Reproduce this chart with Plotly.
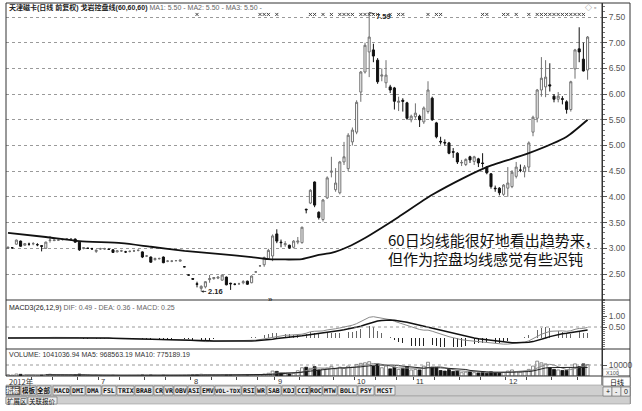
import numpy as np
import pandas as pd
import plotly.graph_objects as go

W, H = 642, 411

# ---------------- data ----------------
opens = [3.00, 3.01, 3.08, 3.14, 3.06, 3.08, 3.09, 3.07, 3.05, 3.00,
         3.15, 3.15, 3.16, 3.17, 3.18, 3.18, 3.18, 3.12, 3.00, 3.00,
         2.99, 2.94, 2.99, 2.99, 2.98, 2.97, 2.93, 2.95, 2.93, 2.94,
         2.95, 2.96, 2.93, 2.85, 2.83, 2.78, 2.80, 2.83, 2.75, 2.75,
         2.76, 2.75, 2.64, 2.48, 2.41, 2.31, 2.22, 2.25, 2.39, 2.41,
         2.42, 2.38, 2.44, 2.32, 2.30, 2.31, 2.33, 2.36, 2.33, 2.54,
         2.66, 2.68, 2.80, 2.85, 3.28, 3.12, 3.07, 3.06, 3.02, 3.12,
         3.11, 3.76, 3.88, 4.29, 3.70, 3.56, 3.98, 4.48, 4.14, 4.08,
         4.68, 4.55, 5.07, 5.26, 6.04, 6.43, 6.82, 6.86, 6.66, 6.35,
         6.22, 6.14, 6.12, 5.84, 5.88, 5.83, 5.50, 5.56, 5.57, 5.46,
         5.66, 5.92, 5.44, 5.08, 5.06, 5.05, 4.88, 4.85, 4.66, 4.63,
         4.78, 4.69, 4.74, 4.66, 4.58, 4.45, 4.17, 4.17, 4.05, 4.17,
         4.20, 4.40, 4.52, 4.49, 4.58, 5.26, 5.53, 6.08, 6.14, 6.18,
         5.96, 5.90, 5.91, 5.85, 5.70, 6.49, 6.88, 6.68, 6.47]
highs = [3.03, 3.02, 3.17, 3.15, 3.10, 3.11, 3.12, 3.10, 3.06, 3.13,
         3.24, 3.17, 3.17, 3.19, 3.20, 3.20, 3.19, 3.13, 3.02, 3.01,
         3.01, 2.98, 3.01, 3.01, 2.99, 2.98, 2.96, 2.97, 2.95, 2.96,
         2.97, 2.98, 2.94, 2.87, 2.84, 2.82, 2.82, 2.84, 2.77, 2.77,
         2.77, 2.78, 2.65, 2.49, 2.42, 2.35, 2.28, 2.36, 2.48, 2.44,
         2.45, 2.49, 2.45, 2.33, 2.32, 2.33, 2.38, 2.37, 2.47, 2.55,
         2.67, 2.84, 2.99, 3.27, 3.37, 3.17, 3.14, 3.07, 3.16, 3.22,
         3.42, 3.77, 4.15, 4.30, 3.72, 3.96, 4.40, 4.78, 4.56, 4.70,
         5.07, 5.24, 5.35, 5.88, 6.45, 7.00, 7.59, 6.98, 6.70, 6.50,
         6.66, 6.18, 6.14, 5.95, 5.92, 5.85, 5.60, 5.82, 5.60, 5.76,
         6.25, 5.95, 5.46, 5.17, 5.12, 5.07, 4.95, 4.87, 4.72, 4.75,
         4.80, 4.80, 4.76, 4.85, 4.60, 4.46, 4.22, 4.19, 4.25, 4.58,
         4.52, 4.68, 4.63, 4.62, 5.08, 5.58, 6.10, 6.72, 6.66, 6.60,
         6.00, 6.04, 5.96, 5.88, 6.26, 6.88, 7.30, 7.00, 7.13]
lows = [2.99, 3.00, 3.07, 3.03, 3.05, 3.05, 3.06, 3.04, 2.94, 2.99,
        3.11, 3.14, 3.15, 3.15, 3.16, 3.16, 3.11, 2.95, 2.98, 2.99,
        2.97, 2.91, 2.97, 2.97, 2.97, 2.91, 2.92, 2.93, 2.91, 2.92,
        2.93, 2.94, 2.81, 2.83, 2.72, 2.76, 2.78, 2.71, 2.73, 2.73,
        2.75, 2.74, 2.63, 2.47, 2.39, 2.24, 2.16, 2.22, 2.33, 2.39,
        2.40, 2.37, 2.28, 2.19, 2.28, 2.29, 2.30, 2.29, 2.32, 2.53,
        2.64, 2.64, 2.77, 2.75, 3.10, 3.02, 3.03, 2.99, 3.00, 3.08,
        3.09, 3.68, 3.86, 3.80, 3.56, 3.52, 3.96, 4.38, 4.10, 4.05,
        4.62, 4.50, 5.00, 5.22, 5.85, 6.40, 6.33, 6.62, 6.20, 6.25,
        6.12, 6.02, 5.70, 5.67, 5.66, 5.50, 5.45, 5.52, 5.36, 5.42,
        5.62, 5.48, 5.14, 5.02, 5.00, 4.83, 4.76, 4.64, 4.60, 4.60,
        4.66, 4.62, 4.58, 4.57, 4.44, 4.16, 4.10, 4.03, 4.02, 4.00,
        4.17, 4.36, 4.48, 4.38, 4.50, 5.18, 5.45, 5.95, 5.94, 6.05,
        5.84, 5.84, 5.80, 5.62, 5.66, 6.30, 6.62, 6.44, 6.28]
closes = [3.02, 3.01, 3.16, 3.04, 3.09, 3.08, 3.09, 3.07, 3.04, 3.12,
          3.16, 3.16, 3.16, 3.17, 3.18, 3.18, 3.12, 2.97, 3.01, 3.00,
          2.99, 2.96, 2.99, 2.99, 2.98, 2.92, 2.95, 2.95, 2.93, 2.94,
          2.95, 2.96, 2.83, 2.85, 2.73, 2.80, 2.80, 2.72, 2.75, 2.75,
          2.76, 2.77, 2.64, 2.48, 2.40, 2.30, 2.26, 2.35, 2.41, 2.43,
          2.44, 2.48, 2.29, 2.31, 2.30, 2.31, 2.35, 2.30, 2.46, 2.54,
          2.66, 2.82, 2.96, 3.24, 3.14, 3.11, 3.09, 3.01, 3.14, 3.14,
          3.41, 3.75, 4.13, 3.84, 3.60, 3.94, 4.37, 4.50, 4.27, 4.68,
          4.78, 5.20, 5.30, 5.84, 6.43, 6.95, 7.11, 6.74, 6.24, 6.37,
          6.37, 6.08, 5.86, 5.86, 5.86, 5.53, 5.57, 5.63, 5.50, 5.73,
          6.08, 5.50, 5.17, 5.07, 5.05, 4.85, 4.87, 4.68, 4.67, 4.73,
          4.72, 4.78, 4.66, 4.65, 4.47, 4.20, 4.16, 4.08, 4.23, 4.27,
          4.48, 4.58, 4.52, 4.58, 5.05, 5.55, 6.08, 6.31, 6.33, 6.16,
          5.90, 5.96, 5.90, 5.70, 6.24, 6.86, 6.82, 6.45, 7.11]
# volume in units of 100 shares
volumes = [1200, 900, 1800, 1500, 1000, 800, 900, 700, 1100, 1300,
           1600, 900, 700, 800, 700, 900, 1000, 1700,
           900, 600, 500, 700, 500, 400, 500, 600, 500, 400, 400, 500,
           500, 600, 900, 600, 900, 500, 400, 700, 500, 400, 400, 500,
           600, 900, 1100, 1300, 1600, 1200, 1000, 800, 700, 800, 900,
           800, 600, 600, 700, 800, 900, 1000, 1200,
           1800, 2500, 4500, 4200, 2600, 2000, 1800, 2500, 4800, 7500,
           8000, 7000, 8500, 5500,
           6500, 7200, 8800, 6500, 8000, 7000, 9000, 8000, 10500, 11500,
           12000, 13000, 9500, 11000, 7500, 9000, 6500, 8000, 6000, 7000,
           8500, 5500,
           6000, 5500, 9000, 12500, 8000, 7500, 5000, 4500, 6000, 4200,
           5000, 3000, 3500, 4000, 3000, 2800, 3500, 2500, 3800, 3000, 2700,
           3200, 4500, 5500, 4000, 3500, 4200, 6000, 9000, 13500, 12000,
           11000, 7500, 6000, 5500, 5000, 5100, 7500, 11000, 8500, 11000, 10410]

# 60-day control line, read at sample candles
ma60_idx = [0, 9, 17, 27, 34, 42, 50, 58, 62, 70, 74, 77, 81, 85, 89, 93,
            101, 109, 114, 124, 133, 138]
ma60_val = [3.30, 3.22, 3.14, 3.10, 3.03, 2.95, 2.89, 2.83, 2.79, 2.79,
            2.87, 2.91, 3.03, 3.20, 3.40, 3.61, 4.04, 4.39, 4.58, 4.85,
            5.17, 5.50]

# signal marks drawn along the top edge
signal_idx = [45, 60, 61, 62, 64, 72, 73, 75, 77, 79, 80, 81, 82, 84, 85,
              86, 87, 88, 91, 93, 94, 100, 102, 103, 113, 114, 118, 119,
              121, 124, 126, 127, 128, 129, 130, 131, 132, 133, 134, 135,
              136, 137]

first_label = '2012年'
month_idx = [22, 44, 64, 83, 97, 119]
month_labels = ['7', '8', '9', '10', '11', '12']
week_ticks = [5.5, 10.5, 16.5, 26.5, 32.5, 37.5, 48.5, 54.5, 59.5, 69.5,
              77.5, 87.5, 92.5, 101.5, 107.5, 112.5, 123.5, 129.5, 135.5]

price_ticks = [2.5, 3.0, 3.5, 4.0, 4.5, 5.0, 5.5, 6.0, 6.5, 7.0, 7.5]
macd_ticks = [0.5, 1.0]
vol_ticks = [10000]

title_main = '天津磁卡(日线 前复权) 戈岩控盘线(60,60,60)'
title_ma = 'MA1: 5.50 - MA2: 5.50 - MA3: 5.50 -'
macd_title = 'MACD3(26,12,9)'
macd_vals = 'DIF: 0.49 - DEA: 0.36 - MACD: 0.25'
vol_title = 'VOLUME: 1041036.94 MA5: 968563.19 MA10: 775189.19'
note1 = '60日均线能很好地看出趋势来，'
note2 = '但作为控盘均线感觉有些迟钝'

buttons = [('指标', 6, 20), ('模板', 21, 36), ('全部', 37, 51), ('MACD', 53, 70),
           ('DMI', 71, 85), ('DMA', 86, 101), ('FSL', 102, 116), ('TRIX', 117, 134),
           ('BRAB', 135, 153), ('CR', 154, 163), ('VR', 164, 173), ('OBV', 174, 187),
           ('ASI', 188, 200), ('EMV', 201, 214), ('VOL-TDX', 215, 241), ('RSI', 242, 255),
           ('WR', 256, 266), ('SAB', 267, 281), ('KDJ', 282, 295), ('CCI', 296, 309),
           ('ROC', 310, 322), ('MTW', 323, 337), ('BOLL', 338, 357), ('PSY', 358, 374),
           ('MCST', 375, 395)]
buttons2 = [('扩展区', 6, 27), ('关联报价', 28, 57)]

# ---------------- derived indicators ----------------
n = len(closes)
idx = np.arange(n)
c = pd.Series(closes)
dif = c.ewm(span=12, adjust=False).mean() - c.ewm(span=26, adjust=False).mean()
dea = dif.ewm(span=9, adjust=False).mean()
hist = 2 * (dif - dea)
v = pd.Series(volumes, dtype=float)
vma5 = v.rolling(5).mean()
vma10 = v.rolling(10).mean()
up = [cl >= op for op, cl in zip(opens, closes)]


def px(x):
    return x / W


def py(y):
    return 1 - y / H


FONT = 'Liberation Sans, Noto Sans CJK SC, sans-serif'
CJK = 'Noto Sans CJK SC, sans-serif'

fig = go.Figure()
fig.add_trace(go.Candlestick(
    x=idx, open=opens, high=highs, low=lows, close=closes,
    increasing=dict(line=dict(color='#707070', width=1), fillcolor='#ffffff'),
    decreasing=dict(line=dict(color='#111111', width=1), fillcolor='#111111'),
    whiskerwidth=0, xaxis='x', yaxis='y', hoverinfo='skip'))
fig.add_trace(go.Scatter(x=ma60_idx, y=ma60_val, mode='lines',
                         line=dict(color='#111111', width=1.8, shape='spline', smoothing=0.6),
                         xaxis='x', yaxis='y'))
fig.add_trace(go.Scatter(x=signal_idx, y=[7.55] * len(signal_idx), mode='markers',
                         marker=dict(symbol='x-thin', size=3, line=dict(width=1, color='#444')),
                         xaxis='x', yaxis='y'))
# MACD
fig.add_trace(go.Bar(x=idx, y=hist, width=0.22,
                     marker=dict(color=['#666666' if h >= 0 else '#222222' for h in hist],
                                 line=dict(width=0)),
                     xaxis='x2', yaxis='y2'))
fig.add_trace(go.Scatter(x=idx, y=dif, mode='lines', line=dict(color='#8a8a8a', width=1),
                         xaxis='x2', yaxis='y2'))
fig.add_trace(go.Scatter(x=idx, y=dea, mode='lines', line=dict(color='#111111', width=1.5),
                         xaxis='x2', yaxis='y2'))
# Volume
fig.add_trace(go.Bar(x=idx, y=volumes, width=0.7,
                     marker=dict(color=['#ffffff' if u else '#111111' for u in up],
                                 line=dict(color=['#707070' if u else '#111111' for u in up], width=0.8)),
                     xaxis='x3', yaxis='y3'))
fig.add_trace(go.Scatter(x=idx, y=vma5, mode='lines', line=dict(color='#8a8a8a', width=1),
                         xaxis='x3', yaxis='y3'))
fig.add_trace(go.Scatter(x=idx, y=vma10, mode='lines', line=dict(color='#222222', width=1),
                         xaxis='x3', yaxis='y3'))

xr = [(6 - 8) / 4.2, (602 - 8) / 4.2]
xdom = [px(6), px(602)]
common_x = dict(domain=xdom, range=xr, showgrid=False, zeroline=False, showticklabels=False,
                fixedrange=True)
ytick = dict(side='right', ticks='outside', ticklen=4, tickcolor='#555', showline=True,
             linecolor='#333', linewidth=1, zeroline=False,
             tickfont=dict(family=FONT, size=8.5, color='#555'))

fig.update_layout(
    width=W, height=H, margin=dict(l=0, r=0, t=0, b=0),
    paper_bgcolor='white', plot_bgcolor='white', showlegend=False,
    bargap=0,
    xaxis=dict(**common_x, anchor='y', rangeslider=dict(visible=False)),
    xaxis2=dict(**common_x, anchor='y2', matches='x'),
    xaxis3=dict(**common_x, anchor='y3', matches='x', ticks='outside', ticklen=3,
                tickcolor='#444', tickvals=week_ticks + [m - 0.5 for m in month_idx]),
    yaxis=dict(**ytick, domain=[py(300), py(3)], range=[7.5 - (300 - 17) / 51.4, 7.5 + (17 - 3) / 51.4],
               tickvals=price_ticks, ticktext=['%.2f' % t for t in price_ticks],
               showgrid=True, gridcolor='#9a9a9a', griddash='dot', gridwidth=1,
               minor=dict(dtick=0.1, ticks='outside', ticklen=2, tickcolor='#777', showgrid=False),
               anchor='x'),
    yaxis2=dict(**ytick, domain=[py(349), py(300)], range=[-(349 - 338) / 22, (338 - 300) / 22],
                tickvals=macd_ticks, ticktext=['%.2f' % t for t in macd_ticks], showgrid=False,
                minor=dict(dtick=0.1, ticks='outside', ticklen=2, tickcolor='#777'),
                anchor='x2'),
    yaxis3=dict(**ytick, domain=[py(376), py(349)], range=[0, (376 - 349) / 11 * 10000],
                tickvals=vol_ticks, ticktext=['10000'], showgrid=False, anchor='x3'),
)

shapes = []


def hline(y, x0=6, x1=630, color='#333', width=1, dash=None):
    shapes.append(dict(type='line', xref='paper', yref='paper', x0=px(x0), x1=px(x1),
                       y0=py(y), y1=py(y), line=dict(color=color, width=width, dash=dash)))


def vline(x, y0, y1, color='#333', width=1):
    shapes.append(dict(type='line', xref='paper', yref='paper', x0=px(x), x1=px(x),
                       y0=py(y0), y1=py(y1), line=dict(color=color, width=width)))


def rect(x0, y0, x1, y1, fill, line='#777', lw=0.6):
    shapes.append(dict(type='rect', xref='paper', yref='paper', x0=px(x0), x1=px(x1),
                       y0=py(y1), y1=py(y0), fillcolor=fill, line=dict(color=line, width=lw),
                       layer='above'))


# dotted guide lines in the lower panels
shapes.append(dict(type='line', xref='paper', yref='y2', x0=px(6), x1=px(602), y0=0.5, y1=0.5,
                   line=dict(color='#9a9a9a', width=1, dash='dot')))
shapes.append(dict(type='line', xref='paper', yref='y3', x0=px(6), x1=px(602), y0=10000, y1=10000,
                   line=dict(color='#9a9a9a', width=1, dash='dot')))
# frame
hline(3)
hline(300)
hline(349)
hline(376)
vline(6, 3, 376)
vline(602, 3, 397)
vline(630, 3, 404)
# bottom bars
rect(6, 385, 630, 396, '#cfcfcf', line='#999')
rect(6, 396, 630, 404, '#cfcfcf', line='#999')
for lab, x0, x1 in buttons:
    rect(x0, 386, x1, 395, '#555555' if lab == '指标' else '#ececec', line='#666')
for lab, x0, x1 in buttons2:
    rect(x0, 397, x1, 404, '#ececec', line='#666')
rect(603, 377, 630, 386, '#ffffff', line='#666')
for k, lab in enumerate(['+', '-', '0']):
    rect(603 + 9 * k, 387, 612 + 9 * k, 396, '#ececec', line='#666')
rect(603, 369, 618, 376, '#ffffff', line='#888', lw=0.5)

ann = []


def text(x, y, s, size=7, color='#222', anchor='left', family=FONT, xref='paper', yref='paper'):
    ann.append(dict(x=px(x) if xref == 'paper' else x, y=py(y) if yref == 'paper' else y,
                    xref=xref, yref=yref, text=s, showarrow=False, xanchor=anchor,
                    yanchor='middle', font=dict(size=size, color=color, family=family)))


text(7, 8, '<b>%s</b> <span style="color:#666">%s</span>' % (title_main, title_ma), size=7)
text(583, 8, '◇ ▫', size=7, color='#555')
text(7, 308, '%s <span style="color:#666">%s</span>' % (macd_title, macd_vals), size=7)
text(7, 354, vol_title, size=7, color='#333')
text(386, 240, note1, size=15, color='#111', family=CJK)
text(386, 258, note2, size=15, color='#111', family=CJK)
text(266, 299, '»', size=8, color='#111')
text(7, 381, first_label, size=7.5, color='#333', family=CJK)
for m, lab in zip(month_idx, month_labels):
    ann.append(dict(x=m - 0.3, y=py(381), xref='x3', yref='paper', text=lab, showarrow=False,
                    xanchor='left', yanchor='middle', font=dict(size=7.5, color='#333', family=FONT)))
text(604, 372.8, 'X100', size=5.5, color='#555')
text(616.5, 381.5, '日线', size=7, color='#111', anchor='center', family=CJK)
for k, lab in enumerate(['+', '-', '0']):
    text(607.5 + 9 * k, 391.5, lab, size=7, color='#111', anchor='center')
for lab, x0, x1 in buttons:
    text((x0 + x1) / 2, 390.5, '<b>%s</b>' % lab, size=6 if len(lab) > 4 else 6.5,
         color='#ffffff' if lab == '指标' else '#111', anchor='center',
         family='DejaVu Sans Mono, Noto Sans CJK SC')
for lab, x0, x1 in buttons2:
    text((x0 + x1) / 2, 400.5, lab, size=6.5, color='#111', anchor='center', family=CJK)

# high / low markers
ann.append(dict(x=86, y=7.59, xref='x', yref='y', text='<b>7.59</b>', showarrow=True,
                arrowhead=0, arrowwidth=0.8, arrowcolor='#222', ax=14, ay=4,
                font=dict(size=7.5, color='#222', family=FONT)))
ann.append(dict(x=46, y=2.16, xref='x', yref='y', text='<b>2.16</b>', showarrow=True,
                arrowhead=2, arrowsize=0.6, arrowwidth=0.8, arrowcolor='#222', ax=14, ay=0,
                font=dict(size=7.5, color='#222', family=FONT)))

fig.update_layout(shapes=shapes, annotations=ann)
fig.write_html('out.html', config={'displayModeBar': False, 'staticPlot': True},
               post_script="document.body.style.margin='0';document.body.style.padding='0';"
                           "document.body.style.overflow='hidden';")
